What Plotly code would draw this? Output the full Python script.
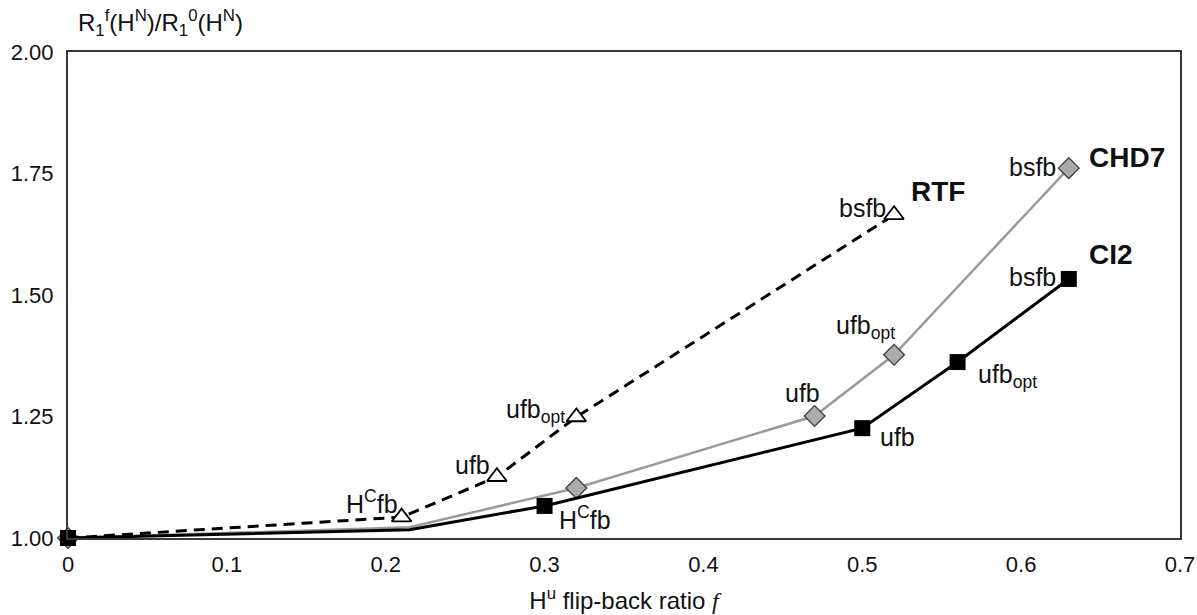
import plotly.graph_objects as go

# ---- data ----
rtf_x = [0.0, 0.21, 0.27, 0.32, 0.52]
rtf_y = [1.00, 1.043, 1.126, 1.249, 1.665]
rtf_labels = ["", "H<sup>C</sup>fb", "ufb", "ufb<sub>opt</sub>", "bsfb"]

chd7_x = [0.0, 0.215, 0.32, 0.47, 0.52, 0.63]
chd7_y = [1.00, 1.022, 1.103, 1.251, 1.377, 1.761]
chd7_labels = ["", "", "", "ufb", "ufb<sub>opt</sub>", "bsfb"]

ci2_x = [0.0, 0.215, 0.30, 0.50, 0.56, 0.63]
ci2_y = [1.00, 1.017, 1.066, 1.226, 1.362, 1.533]
ci2_labels = ["", "", "H<sup>C</sup>fb", "ufb", "ufb<sub>opt</sub>", "bsfb"]

x_ticks = [0, 0.1, 0.2, 0.3, 0.4, 0.5, 0.6, 0.7]
x_ticktext = ["0", "0.1", "0.2", "0.3", "0.4", "0.5", "0.6", "0.7"]
y_ticks = [1.00, 1.25, 1.50, 1.75, 2.00]
y_ticktext = ["1.00", "1.25", "1.50", "1.75", "2.00"]

FONT = "Liberation Sans, Arial, sans-serif"

# points on the line where no marker is drawn (bend under the triangle)
hidden = {"chd7": [1], "ci2": [1]}


def sizes(n, base, hid):
    return [0 if i in hid else base for i in range(n)]


fig = go.Figure()

fig.add_trace(go.Scatter(
    x=chd7_x, y=chd7_y, mode="lines+markers", name="CHD7",
    line=dict(color="#9a9a9a", width=2.5),
    marker=dict(symbol="diamond", size=sizes(len(chd7_x), 16, hidden["chd7"]),
                color="#ababab", opacity=1, line=dict(color="#3c3c3c", width=1.3)),
    cliponaxis=False))

fig.add_trace(go.Scatter(
    x=ci2_x, y=ci2_y, mode="lines+markers", name="CI2",
    line=dict(color="#000000", width=3),
    marker=dict(symbol="square", size=sizes(len(ci2_x), 16, hidden["ci2"]),
                color="#000000", opacity=1, line=dict(width=0)),
    cliponaxis=False))

fig.add_trace(go.Scatter(
    x=rtf_x, y=rtf_y, mode="lines", name="RTF",
    line=dict(color="#000000", width=3, dash="11px,7px"),
    cliponaxis=False))
fig.add_trace(go.Scatter(
    x=rtf_x[1:], y=rtf_y[1:], mode="markers", name="RTF",
    marker=dict(symbol="triangle-up", size=17, color="#ffffff", opacity=1,
                line=dict(color="#000000", width=1.8)),
    cliponaxis=False))

LBL = dict(family=FONT, size=25, color="#111111")


def lab(x, y, text, xanchor, xshift, yshift, yanchor="middle"):
    return dict(x=x, y=y, text=text, showarrow=False, xanchor=xanchor,
                yanchor=yanchor, xshift=xshift, yshift=yshift, font=LBL)


ann = []
# RTF labels: left of triangles
ann.append(lab(rtf_x[1], rtf_y[1], rtf_labels[1], "right", -2, 15))
ann.append(lab(rtf_x[2], rtf_y[2], rtf_labels[2], "right", -5, 12))
ann.append(lab(rtf_x[3], rtf_y[3], rtf_labels[3], "right", -9, 6))
ann.append(lab(rtf_x[4], rtf_y[4], rtf_labels[4], "right", -6, 7))
# CHD7 labels
ann.append(lab(chd7_x[3], chd7_y[3], chd7_labels[3], "center", -12, 23))
ann.append(lab(chd7_x[4], chd7_y[4], chd7_labels[4], "right", 3, 28))
ann.append(lab(chd7_x[5], chd7_y[5], chd7_labels[5], "right", -11, 1))
# CI2 labels
ann.append(lab(ci2_x[2], ci2_y[2], ci2_labels[2], "left", 12, -12))
ann.append(lab(ci2_x[3], ci2_y[3], ci2_labels[3], "left", 16, -9))
ann.append(lab(ci2_x[4], ci2_y[4], ci2_labels[4], "left", 18, -14))
ann.append(lab(ci2_x[5], ci2_y[5], ci2_labels[5], "right", -11, 2))

# series names
BOLD = dict(family=FONT, size=28, color="#111111")
ann.append(dict(x=rtf_x[-1], y=rtf_y[-1], text="<b>RTF</b>", showarrow=False,
                xanchor="left", yanchor="middle", xshift=15, yshift=23, font=BOLD))
ann.append(dict(x=chd7_x[-1], y=chd7_y[-1], text="<b>CHD7</b>", showarrow=False,
                xanchor="left", yanchor="middle", xshift=18, yshift=11, font=BOLD))
ann.append(dict(x=ci2_x[-1], y=ci2_y[-1], text="<b>CI2</b>", showarrow=False,
                xanchor="left", yanchor="middle", xshift=18, yshift=24, font=BOLD))

# y-axis title at top-left
ann.append(dict(xref="paper", yref="paper", x=0, y=1, xanchor="left", yanchor="bottom",
                xshift=8, yshift=10, showarrow=False,
                text="R<sub>1</sub><sup>f</sup>(H<sup>N</sup>)/R<sub>1</sub><sup>0</sup>(H<sup>N</sup>)",
                font=dict(family=FONT, size=24, color="#111111")))

fig.update_layout(
    width=1197, height=615,
    margin=dict(l=68, r=17, t=52, b=77, autoexpand=False),
    paper_bgcolor="white", plot_bgcolor="white",
    showlegend=False,
    font=dict(family=FONT, size=22, color="#111111"),
    annotations=ann,
    xaxis=dict(range=[0, 0.7], tickvals=x_ticks, ticktext=x_ticktext,
               showgrid=False, zeroline=False, showline=True, linecolor="#3a3a3a",
               linewidth=2, mirror=True, ticks="", tickfont=dict(size=22),
               ticklabelstandoff=6, automargin=False,
               title=dict(text="H<sup>u</sup> flip-back ratio <span style=\"font-family:Liberation Serif\"><i>f</i></span>",
                          font=dict(size=24), standoff=16)),
    yaxis=dict(range=[1, 2], tickvals=y_ticks, ticktext=y_ticktext,
               showgrid=False, zeroline=False, showline=True, linecolor="#3a3a3a",
               linewidth=2, mirror=True, ticks="", tickfont=dict(size=22),
               ticklabelstandoff=8, automargin=False),
)

fig.write_html("out.html")
